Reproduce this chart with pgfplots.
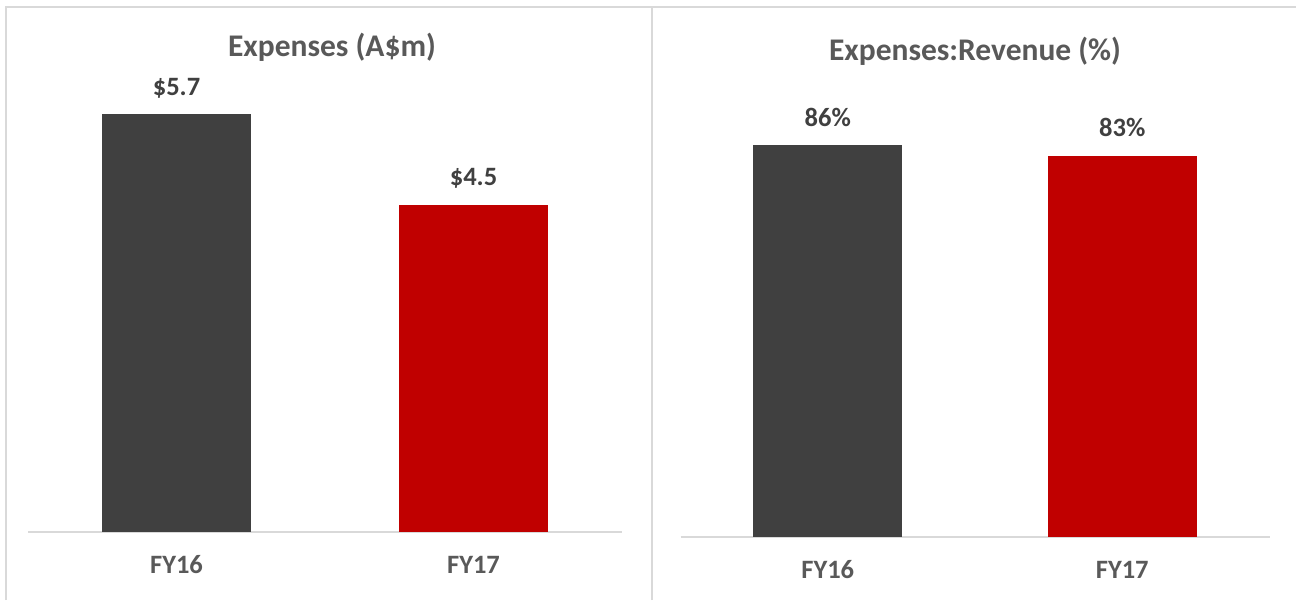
\documentclass[border=0pt]{standalone}
\usepackage{pgfplots}
\pgfplotsset{compat=1.18}
\usepackage{fontspec}
\setmainfont{Carlito}
\definecolor{barDark}{HTML}{404040}
\definecolor{barRed}{HTML}{C00000}
\definecolor{titleGrey}{HTML}{595959}
\definecolor{valGrey}{HTML}{404040}
\definecolor{lineGrey}{HTML}{D9D9D9}
\pgfplotsset{
  mybars/.style={
    scale only axis,
    ybar, bar width=149pt, bar shift=0pt,
    xmin=-0.5, xmax=1.5, ymin=0,
    axis x line=bottom, axis y line=none,
    x axis line style={draw=lineGrey, line width=1.5pt, -},
    xtick={0,1}, xticklabels={FY16,FY17},
    major tick length=0pt,
    xticklabel style={font=\fontsize{26.5}{31}\selectfont\bfseries, text=titleGrey, anchor=base, yshift=-41pt},
    nodes near coords,
    point meta=explicit symbolic,
    every node near coord/.append style={font=\fontsize{26.5}{31}\selectfont\bfseries, text=valGrey, anchor=base, yshift=19pt},
    clip=false,
  }
}
\begin{document}
\begin{tikzpicture}[x=1pt,y=1pt]
\path[use as bounding box] (0,0) rectangle (1296,600);
\draw[lineGrey, line width=2pt] (6,0) -- (6,593) -- (1296,593);
\draw[lineGrey, line width=2pt] (652,0) -- (652,593);
\node[anchor=base, text=titleGrey, font=\fontsize{31.5}{37}\selectfont\bfseries] at (332,543) {Expenses (A\$m)};
\node[anchor=base, text=titleGrey, font=\fontsize{31.5}{37}\selectfont\bfseries] at (975,539) {Expenses:Revenue (\%)};
\begin{axis}[mybars, at={(28pt,68pt)}, anchor=south west, width=594pt, height=440pt, ymax=6]
\addplot[fill=barDark, draw=none] coordinates {(0,5.7) [\$5.7]};
\addplot[fill=barRed, draw=none] coordinates {(1,4.46) [\$4.5]};
\end{axis}
\begin{axis}[mybars, at={(680.5pt,63pt)}, anchor=south west, width=589pt, height=455.8pt, ymax=100]
\addplot[fill=barDark, draw=none] coordinates {(0,86) [86\%]};
\addplot[fill=barRed, draw=none] coordinates {(1,83.6) [83\%]};
\end{axis}
\end{tikzpicture}
\end{document}
